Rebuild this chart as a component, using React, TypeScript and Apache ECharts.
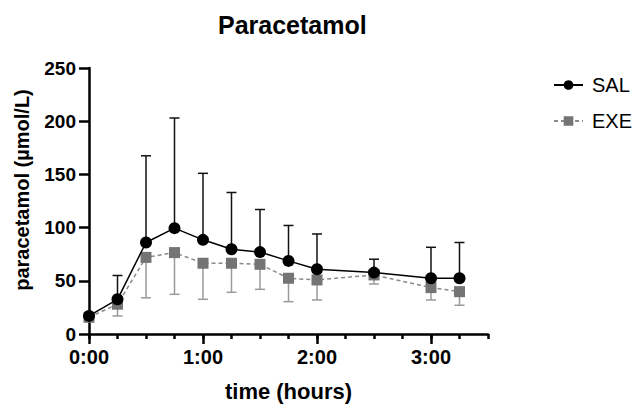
import React, { useEffect, useRef } from "react";
import * as echarts from "echarts";

const times = [0, 0.25, 0.5, 0.75, 1, 1.25, 1.5, 1.75, 2, 2.5, 3, 3.25];
const salMean = [17, 32.6, 86, 99.5, 88.5, 79.7, 77, 68.7, 60.8, 57.7, 52.4, 52.4];
const salUpper = [null, 55, 167.5, 203, 151, 133, 117, 102, 94, 70.3, 81.5, 86];
const exeMean = [15.7, 28, 72, 76.5, 66.5, 66.5, 65.5, 52.4, 50.8, 55.5, 43.6, 39.8];
const exeLower = [null, 17, 34, 37.3, 32.6, 39.2, 42, 30.4, 32, 47, 32, 27];
const yTicks = [0, 50, 100, 150, 200, 250];
const xMajorTicks = [0, 1, 2, 3];
const xMinorTicks = [0, 0.25, 0.5, 0.75, 1, 1.25, 1.5, 1.75, 2, 2.25, 2.5, 2.75, 3, 3.25, 3.5];

const FONT = "'Liberation Sans', Arial, sans-serif";

function errSeries(name: string, mean: number[], ends: (number | null)[], color: string) {
  const data = times
    .map((t, i) => (ends[i] == null ? null : [t, mean[i], ends[i]]))
    .filter((d) => d !== null);
  return {
    name: name + "_err",
    type: "custom",
    xAxisIndex: 0,
    yAxisIndex: 0,
    silent: true,
    data,
    z: 2,
    renderItem: (params: any, api: any) => {
      const x = api.value(0);
      const y = api.value(1);
      const e = api.value(2);
      const p0 = api.coord([x, y]);
      const p1 = api.coord([x, e]);
      const hw = 5;
      const style = { stroke: color, lineWidth: 1.5 };
      return {
        type: "group",
        children: [
          { type: "line", shape: { x1: p0[0], y1: p0[1], x2: p1[0], y2: p1[1] }, style },
          { type: "line", shape: { x1: p1[0] - hw, y1: p1[1], x2: p1[0] + hw, y2: p1[1] }, style },
        ],
      };
    },
  };
}

export default function App() {
  const ref = useRef<HTMLDivElement>(null);
  useEffect(() => {
    if (!ref.current) return;
    const chart = echarts.init(ref.current, null, { renderer: "svg" });
    const axisLineStyle = { color: "#000", width: 2.5 };
    chart.setOption({
      animation: false,
      backgroundColor: "#fff",
      textStyle: { fontFamily: FONT },
      title: {
        text: "Paracetamol",
        left: 213,
        top: 7,
        textStyle: { fontFamily: FONT, fontSize: 25, fontWeight: "bold", color: "#000" },
      },
      legend: {
        orient: "vertical",
        left: 548,
        top: 70,
        itemWidth: 29,
        itemHeight: 12,
        itemGap: 16,
        data: ["SAL", "EXE"],
        textStyle: { fontFamily: FONT, fontSize: 20, color: "#000", lineHeight: 20, padding: [0, 0, 0, 4] },
      },
      grid: { left: 89, right: 150, top: 68, bottom: 70, outerBoundsMode: "none" },
      xAxis: [
        {
          type: "value",
          min: 0,
          max: 3.5,
          interval: 0.25,
          axisLine: { show: true, onZero: false, lineStyle: axisLineStyle },
          axisTick: { show: true, length: 5, lineStyle: axisLineStyle, customValues: xMinorTicks },
          axisLabel: { show: false },
          splitLine: { show: false },
          name: "time (hours)",
          nameLocation: "middle",
          nameGap: 46,
          nameTextStyle: { fontFamily: FONT, fontSize: 22, fontWeight: "bold", color: "#000" },
        },
        {
          type: "value",
          position: "bottom",
          min: 0,
          max: 3.5,
          interval: 1,
          axisLine: { show: false, onZero: false },
          axisTick: { show: true, length: 10, lineStyle: axisLineStyle, customValues: xMajorTicks },
          axisLabel: {
            show: true,
            margin: 13,
            customValues: xMajorTicks,
            formatter: (v: number) => `${v}:00`,
            fontFamily: FONT,
            fontSize: 20,
            fontWeight: "bold",
            color: "#000",
          },
          splitLine: { show: false },
        },
      ],
      yAxis: {
        type: "value",
        min: 0,
        max: 250,
        interval: 50,
        axisLine: { show: true, onZero: false, lineStyle: axisLineStyle },
        axisTick: { show: true, length: 10, lineStyle: axisLineStyle, customValues: yTicks },
        axisLabel: {
          margin: 13,
          customValues: yTicks,
          fontFamily: FONT,
          fontSize: 19,
          fontWeight: "bold",
          color: "#000",
        },
        splitLine: { show: false },
      },
      graphic: [
        {
          type: "text",
          x: 22,
          y: 190,
          rotation: Math.PI / 2,
          style: {
            text: "paracetamol (µmol/L)",
            fontFamily: FONT,
            fontSize: 20,
            fontWeight: "bold",
            fill: "#000",
            align: "center",
            verticalAlign: "middle",
          },
        },
      ],
      series: [
        errSeries("EXE", exeMean, exeLower, "#9a9a9a"),
        {
          name: "EXE",
          type: "line",
          data: times.map((t, i) => [t, exeMean[i]]),
          symbol: "rect",
          symbolSize: 11,
          itemStyle: { color: "#747474" },
          lineStyle: { color: "#8a8a8a", width: 1.5, type: [4, 3] },
          z: 3,
        },
        errSeries("SAL", salMean, salUpper, "#111"),
        {
          name: "SAL",
          type: "line",
          data: times.map((t, i) => [t, salMean[i]]),
          symbol: "circle",
          symbolSize: 12,
          itemStyle: { color: "#000" },
          lineStyle: { color: "#000", width: 1.5 },
          z: 4,
        },
      ],
    });
    return () => chart.dispose();
  }, []);
  return <div ref={ref} style={{ width: 638, height: 404, position: "absolute", left: 0, top: 0 }} />;
}
